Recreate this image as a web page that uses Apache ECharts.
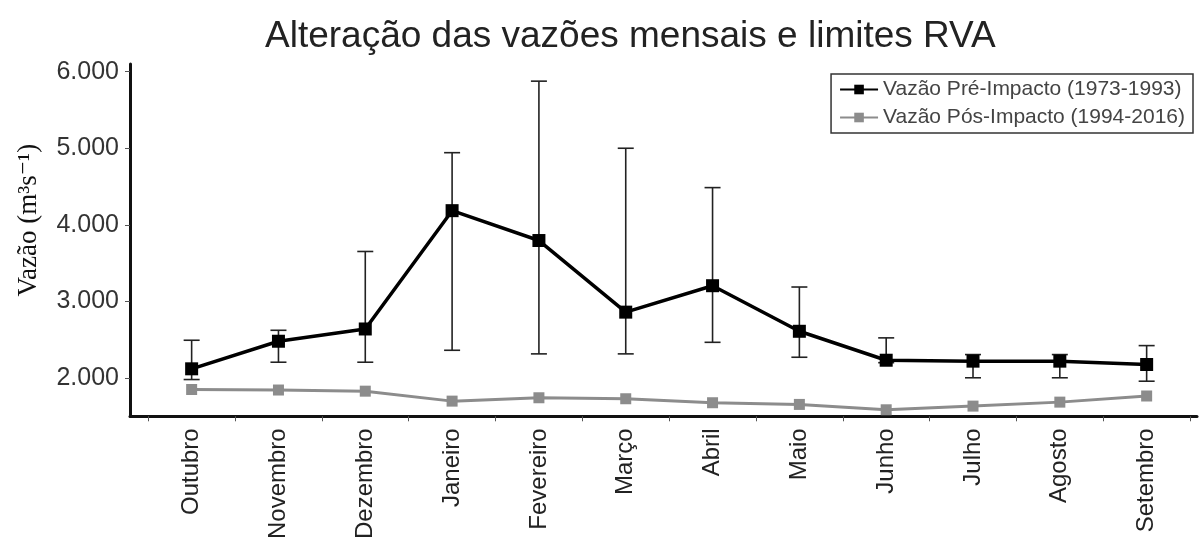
<!DOCTYPE html>
<html>
<head>
<meta charset="utf-8">
<style>
  html, body { margin: 0; padding: 0; background: #fff; }
  #chart { width: 1199px; height: 542px; }
</style>
<script src="https://cdn.jsdelivr.net/npm/echarts@6/dist/echarts.min.js"></script>
</head>
<body>
<div id="chart"></div>
<script>
var meses = ['Outubro', 'Novembro', 'Dezembro', 'Janeiro', 'Fevereiro', 'Março',
             'Abril', 'Maio', 'Junho', 'Julho', 'Agosto', 'Setembro'];

// vazão média pré-impacto e limites RVA (inferior / superior)
var vazaoPre = [2120, 2480, 2640, 4185, 3795, 2860, 3205, 2610, 2232, 2220, 2220, 2176];
var limiteInf = [1980, 2206, 2206, 2362, 2315, 2315, 2466, 2271, 2200, 2003, 2003, 1958];
var limiteSup = [2493, 2623, 3652, 4942, 5876, 5000, 4486, 3188, 2524, 2306, 2306, 2423];

// vazão média pós-impacto
var vazaoPos = [1850, 1843, 1828, 1698, 1742, 1729, 1677, 1655, 1585, 1633, 1685, 1765];

var yTicks = [2000, 3000, 4000, 5000, 6000];

var myChart = echarts.init(document.getElementById('chart'));

var preData = [], posData = [], barras = [], xLabels = [], xTicks = [];
meses.forEach(function(m, i) {
    preData.push([i, vazaoPre[i]]);
    posData.push([i, vazaoPos[i]]);
    barras.push([i, limiteInf[i], limiteSup[i]]);
    xLabels.push(i);
    xTicks.push(i - 0.5);
});
xTicks.push(meses.length - 0.5);

function renderBarra(params, api) {
    var x = api.value(0);
    var pBaixo = api.coord([x, api.value(1)]);
    var pAlto = api.coord([x, api.value(2)]);
    var w = 8;
    var estilo = { stroke: '#222', lineWidth: 1.6 };
    return {
        type: 'group',
        children: [
            { type: 'line', shape: { x1: pAlto[0], y1: pAlto[1], x2: pBaixo[0], y2: pBaixo[1] }, style: estilo },
            { type: 'line', shape: { x1: pAlto[0] - w, y1: pAlto[1], x2: pAlto[0] + w, y2: pAlto[1] }, style: estilo },
            { type: 'line', shape: { x1: pBaixo[0] - w, y1: pBaixo[1], x2: pBaixo[0] + w, y2: pBaixo[1] }, style: estilo }
        ]
    };
}

var option = {
    animation: false,
    title: {
        text: 'Alteração das vazões mensais e limites RVA',
        left: 260,
        top: 13,
        textStyle: {
            fontFamily: 'Liberation Sans, Arial, sans-serif',
            fontSize: 37,
            fontWeight: 'normal',
            color: '#222'
        }
    },
    legend: {
        orient: 'vertical',
        right: 6,
        top: 74,
        padding: [5, 8, 5, 8],
        itemGap: 7,
        itemWidth: 38,
        itemHeight: 12,
        borderColor: '#333',
        borderWidth: 1.5,
        textStyle: {
            fontFamily: 'Liberation Sans, Arial, sans-serif',
            fontSize: 21,
            color: '#444'
        },
        data: ['Vazão Pré-Impacto (1973-1993)', 'Vazão Pós-Impacto (1994-2016)']
    },
    grid: {
        left: 130,
        right: 2,
        top: 64,
        bottom: 125
    },
    xAxis: {
        type: 'value',
        min: -0.71,
        max: 11.58,
        splitLine: { show: false },
        axisLine: { onZero: false, lineStyle: { color: '#111', width: 3 } },
        axisTick: {
            customValues: xTicks,
            length: 5,
            lineStyle: { color: '#555', width: 1 }
        },
        axisLabel: {
            customValues: xLabels,
            rotate: 90,
            margin: 12,
            fontFamily: 'Liberation Sans, Arial, sans-serif',
            fontSize: 24,
            color: '#222',
            formatter: function(v) { return meses[Math.round(v)]; }
        }
    },
    yAxis: {
        type: 'value',
        min: 1500,
        max: 6100,
        name: 'Vazão (m³s⁻¹)',
        nameLocation: 'middle',
        nameRotate: 90,
        nameGap: 88,
        nameTextStyle: {
            fontFamily: 'Liberation Serif, DejaVu Serif, serif',
            fontSize: 27,
            color: '#111',
            padding: [0, 0, 0, 40]
        },
        splitLine: { show: false },
        axisLine: { show: true, onZero: false, lineStyle: { color: '#111', width: 3 } },
        axisTick: {
            show: true,
            customValues: yTicks,
            length: 5,
            lineStyle: { color: '#555', width: 1 }
        },
        axisLabel: {
            customValues: yTicks,
            margin: 11,
            fontFamily: 'Liberation Sans, Arial, sans-serif',
            fontSize: 25,
            color: '#333',
            formatter: function(v) { return (v / 1000).toFixed(3); }
        }
    },
    series: [
        {
            name: 'limites',
            type: 'custom',
            renderItem: renderBarra,
            encode: { x: 0, y: [1, 2] },
            data: barras,
            z: 1
        },
        {
            name: 'Vazão Pós-Impacto (1994-2016)',
            type: 'line',
            data: posData,
            symbol: 'rect',
            symbolSize: 11,
            itemStyle: { color: '#8c8c8c' },
            lineStyle: { color: '#8c8c8c', width: 3 },
            z: 2
        },
        {
            name: 'Vazão Pré-Impacto (1973-1993)',
            type: 'line',
            data: preData,
            symbol: 'rect',
            symbolSize: 13,
            itemStyle: { color: '#000' },
            lineStyle: { color: '#000', width: 3.5 },
            z: 3
        }
    ]
};

myChart.setOption(option);
</script>
</body>
</html>
